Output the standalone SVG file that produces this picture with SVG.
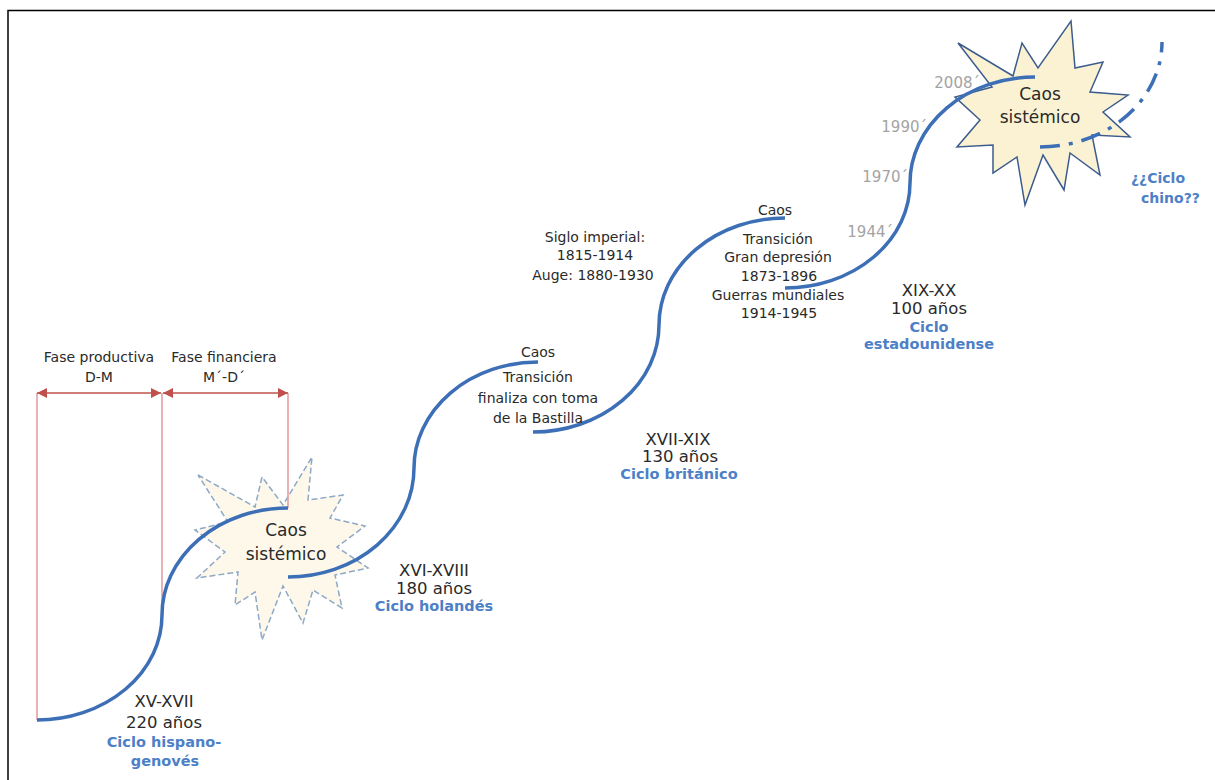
<svg xmlns="http://www.w3.org/2000/svg" width="1215" height="780" viewBox="0 0 1215 780">
<style>
text{font-family:"DejaVu Sans","Liberation Sans",sans-serif;text-anchor:middle;fill:#2a2a2a}
.s14{font-size:14px}
.era{font-size:16.5px}
.cyc{font-size:14.5px;font-weight:bold;fill:#4d80c6}
.star{font-size:17px}
.yr{font-size:15px;fill:#a3a3a3;text-anchor:end}
.curve{fill:none;stroke:#3d6fb6;stroke-width:3.5;stroke-linecap:butt}
.vline{stroke:#e39a9a;stroke-width:1.5;fill:none}
.hline{stroke:#c0504d;stroke-width:1.5;fill:none;marker-start:url(#arr);marker-end:url(#arr)}
</style>
<defs>
<marker id="arr" viewBox="0 0 10 10" refX="10" refY="5" markerWidth="10" markerHeight="10" markerUnits="userSpaceOnUse" orient="auto-start-reverse">
<path d="M0,0 L10,5 L0,10 z" fill="#c0504d"/>
</marker>
</defs>
<rect width="1215" height="780" fill="#ffffff"/>
<path d="M8,780 V10.5 H1215" fill="none" stroke="#000" stroke-width="1.5"/>

<g id="star1">
<polygon points="198,475 255,507 262,477 283,505 312,457 308,500 343,495 330,518 365,526 337,547 368,568 335,575 342,608 313,590 303,623 283,586 262,640 255,592 235,605 238,572 197,578 225,552 195,530 228,522" fill="#fdf8ea" stroke="#8ea8c8" stroke-width="1.5" stroke-dasharray="6 3"/>
</g>
<g id="star2">
<polygon points="958,43 1013,76 1022,43 1038,68 1071,21 1075,68 1103,62 1090,92 1128,95 1103,112 1130,137 1092,135 1100,175 1070,153 1064,190 1043,155 1025,205 1017,157 993,173 993,145 957,147 980,120 955,97 992,87" fill="#fbf2d3" stroke="#3b5c8c" stroke-width="1.5"/>
</g>

<g id="brackets">
<line class="vline" x1="37" y1="393" x2="37" y2="720"/>
<line class="vline" x1="162" y1="393" x2="162" y2="620"/>
<line class="vline" x1="288" y1="393" x2="288" y2="508"/>
<line class="hline" x1="37" y1="393" x2="161" y2="393"/>
<line class="hline" x1="163" y1="393" x2="288" y2="393"/>
</g>

<g id="connectors">
<path class="curve" d="M37,720 A125,105 0 0 0 162,615 A126,107 0 0 1 288,508"/>
<path class="curve" d="M288,577 A126,109 0 0 0 414,468 A124,106 0 0 1 538,362"/>
<path class="curve" d="M533,432 A126,107 0 0 0 659,325 A126,107 0 0 1 785,218"/>
<path class="curve" d="M785,288 A125,105 0 0 0 910,183 A125,106 0 0 1 1035,77"/>
<path class="curve" d="M1040,147 A122,105 0 0 0 1162,42" stroke-dasharray="20 9 4 9"/>
</g>

<g id="phase-labels">
<text class="s14" x="99" y="362">Fase productiva</text>
<text class="s14" x="99" y="382">D-M</text>
<text class="s14" x="224" y="362">Fase financiera</text>
<text class="s14" x="224" y="382">M´-D´</text>
</g>

<g id="star1-text">
<text class="star" x="286" y="536">Caos</text>
<text class="star" x="286" y="560">sistémico</text>
</g>
<g id="star2-text">
<text class="star" x="1040" y="100">Caos</text>
<text class="star" x="1040" y="123">sistémico</text>
</g>

<g id="cycle1">
<text class="era" x="164" y="707">XV-XVII</text>
<text class="era" x="164" y="728">220 años</text>
<text class="cyc" x="164" y="747">Ciclo hispano-</text>
<text class="cyc" x="165" y="766">genovés</text>
</g>
<g id="cycle2">
<text class="era" x="434" y="576">XVI-XVIII</text>
<text class="era" x="434" y="594">180 años</text>
<text class="cyc" x="434" y="611">Ciclo holandés</text>
</g>
<g id="cycle3">
<text class="era" x="678" y="445">XVII-XIX</text>
<text class="era" x="680" y="462">130 años</text>
<text class="cyc" x="679" y="479">Ciclo británico</text>
</g>
<g id="cycle4">
<text class="era" x="929" y="296">XIX-XX</text>
<text class="era" x="929" y="314">100 años</text>
<text class="cyc" x="929" y="332">Ciclo</text>
<text class="cyc" x="929" y="349">estadounidense</text>
</g>
<g id="cycle5">
<text class="cyc" x="1131" y="183" style="text-anchor:start;font-size:14px">¿¿Ciclo</text>
<text class="cyc" x="1141" y="203" style="text-anchor:start;font-size:14px">chino??</text>
</g>

<g id="transition1">
<text class="s14" x="538" y="357">Caos</text>
<text class="s14" x="538" y="382">Transición</text>
<text class="s14" x="538" y="403">finaliza con toma</text>
<text class="s14" x="538" y="423">de la Bastilla</text>
</g>
<g id="imperial">
<text class="s14" x="595" y="242">Siglo imperial:</text>
<text class="s14" x="595" y="260">1815-1914</text>
<text class="s14" x="593" y="280">Auge: 1880-1930</text>
</g>
<g id="transition2">
<text class="s14" x="775" y="215">Caos</text>
<text class="s14" x="778" y="244">Transición</text>
<text class="s14" x="778" y="262">Gran depresión</text>
<text class="s14" x="779" y="281">1873-1896</text>
<text class="s14" x="778" y="300">Guerras mundiales</text>
<text class="s14" x="779" y="318">1914-1945</text>
</g>

<g id="years">
<text class="yr" x="980" y="88">2008´</text>
<text class="yr" x="927" y="132">1990´</text>
<text class="yr" x="908" y="182">1970´</text>
<text class="yr" x="893" y="237">1944´</text>
</g>
</svg>
